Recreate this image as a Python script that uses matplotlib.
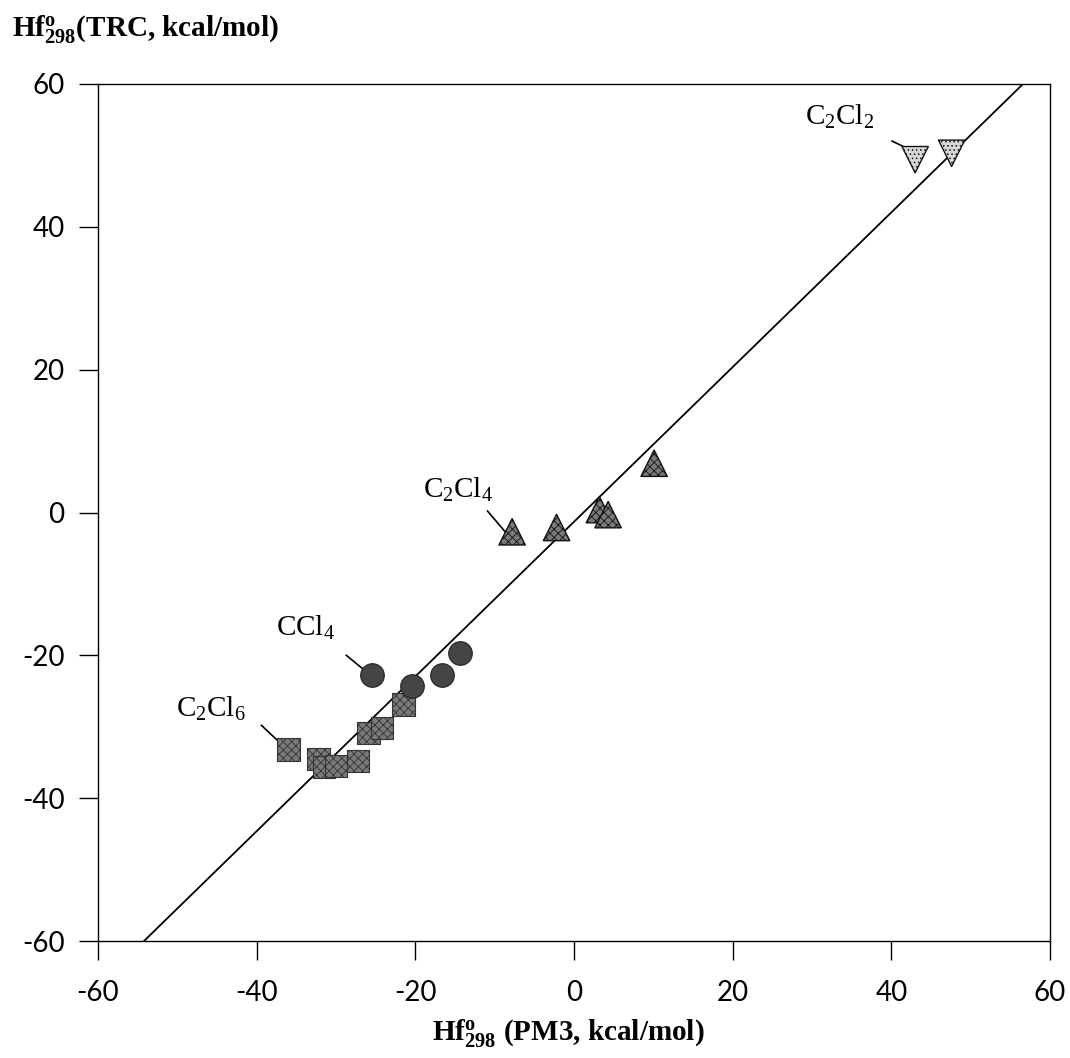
import matplotlib
matplotlib.use("Agg")
import matplotlib.pyplot as plt

plt.rcParams['mathtext.fontset'] = 'custom'
plt.rcParams['mathtext.rm'] = 'Liberation Serif'
plt.rcParams['mathtext.it'] = 'Liberation Serif:italic'
plt.rcParams['mathtext.bf'] = 'Liberation Serif:bold'
plt.rcParams['hatch.linewidth'] = 0.6
plt.rcParams['hatch.color'] = '#222222'

# ---- data ----
tri_up_x = [-7.8, -2.2, 3.2, 4.3, 10.1]
tri_up_y = [-2.7, -2.1, 0.4, -0.3, 6.9]
tri_dn_x = [43.0, 47.6]
tri_dn_y = [49.4, 50.3]
circ_x = [-25.5, -20.4, -16.7, -14.4]
circ_y = [-22.7, -24.3, -22.8, -19.7]
sq_x = [-36.0, -32.2, -31.5, -30.0, -27.2, -25.9, -24.2, -21.5]
sq_y = [-33.2, -34.5, -35.6, -35.5, -34.8, -30.9, -30.2, -26.9]
fit_x = [-54.2, 56.6]
fit_y = [-60.0, 60.0]

labels = [r'C$_2$Cl$_2$', r'C$_2$Cl$_4$', r'CCl$_4$', r'C$_2$Cl$_6$']
label_pos = [(29.1, 54.3, 'left'), (-19.0, 2.1, 'left'), (-37.5, -17.2, 'left'), (-41.3, -28.6, 'right')]
leaders = [((40.1, 52.0), (41.8, 51.1)), ((-10.9, 0.2), (-8.6, -2.8)),
           ((-28.7, -20.0), (-26.5, -22.0)), ((-39.4, -29.8), (-37.3, -32.0))]

ticks = [-60, -40, -20, 0, 20, 40, 60]

fig = plt.figure(figsize=(10.7, 10.58), dpi=100)
ax = fig.add_axes([98/1070, 1 - 941/1058, (1050-98)/1070, (941-84)/1058])

ax.plot(fit_x, fit_y, color='black', lw=1.3, zorder=2)

ax.scatter(sq_x, sq_y, marker='s', s=16**2, facecolor='#7a7a7a', edgecolor='#333333',
           hatch='xxxx', linewidth=0.8, zorder=3)
ax.scatter(circ_x, circ_y, marker='o', s=17**2, facecolor='#454545', edgecolor='#222222',
           linewidth=0.8, zorder=3)
ax.scatter(tri_up_x, tri_up_y, marker='^', s=19**2, facecolor='#7a7a7a', edgecolor='#111111',
           hatch='xxxx', linewidth=1.0, zorder=3)
ax.scatter(tri_dn_x, tri_dn_y, marker='v', s=19**2, facecolor='#d8d8d8', edgecolor='#111111',
           hatch='....', linewidth=1.0, zorder=3)

for lab, (tx, ty, ha), ((x0, y0), (x1, y1)) in zip(labels, label_pos, leaders):
    ax.text(tx, ty, lab, fontsize=21, ha=ha, va='baseline', family='Liberation Serif')
    ax.plot([x0, x1], [y0, y1], color='black', lw=1.2, zorder=2)

ax.set_xlim(-60, 60)
ax.set_ylim(-60, 60)
ax.set_xticks(ticks)
ax.set_yticks(ticks)
ax.set_xticklabels([str(t) for t in ticks])
ax.set_yticklabels([str(t) for t in ticks])
ax.tick_params(direction='out', length=14, width=1.0, labelsize=20, pad=6)
ax.tick_params(axis='x', pad=14)
ax.tick_params(axis='y', pad=10)
for lab in ax.get_xticklabels() + ax.get_yticklabels():
    lab.set_family('Lato')
for sp in ax.spines.values():
    sp.set_linewidth(1.0)

fig.text(12/1070, 1 - 36/1058, r'$\mathbf{Hf^{o}_{298}}$' + '(TRC, kcal/mol)',
         fontsize=21, fontweight='bold', family='Liberation Serif', ha='left', va='baseline')
fig.text(568/1070, 1 - 1040/1058, r'$\mathbf{Hf^{o}_{298}}$' + ' (PM3, kcal/mol)',
         fontsize=21, fontweight='bold', family='Liberation Serif', ha='center', va='baseline')

fig.savefig('out.png', dpi=100, facecolor='white')
